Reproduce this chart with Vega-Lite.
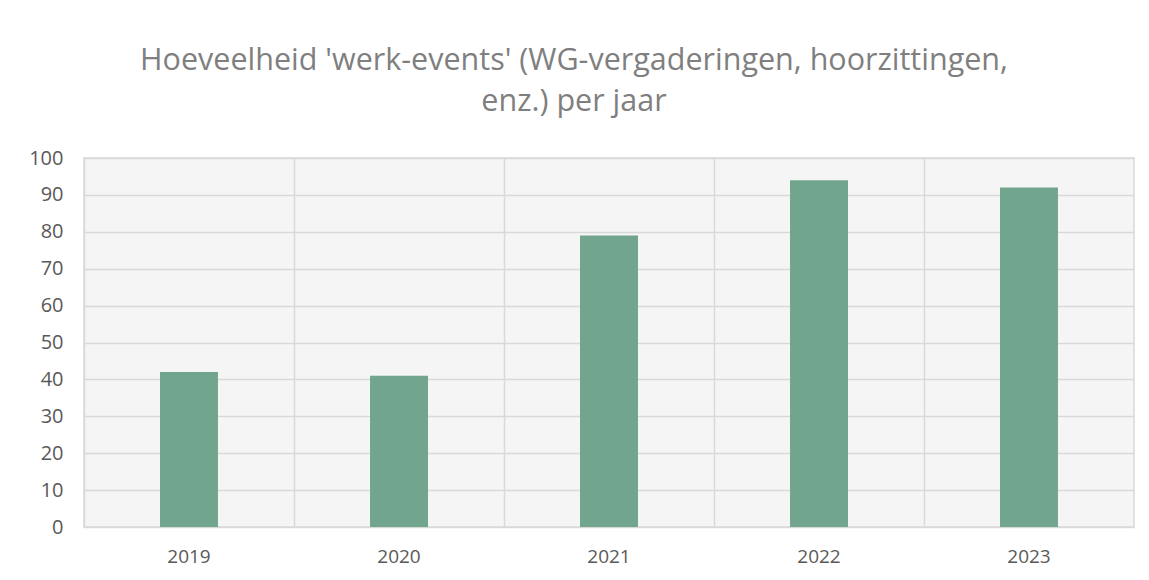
{
  "$schema": "https://vega.github.io/schema/vega-lite/v6.json",
  "width": 1050,
  "height": 369,
  "autosize": {"type": "none"},
  "padding": {"left": 84, "top": 158, "right": 15, "bottom": 53},
  "background": "white",
  "title": {
    "text": ["Hoeveelheid 'werk-events' (WG-vergaderingen, hoorzittingen,", "enz.) per jaar"],
    "font": "Open Sans",
    "fontSize": 30.5,
    "fontWeight": "normal",
    "color": "#7f7f7f",
    "anchor": "middle",
    "dx": -35,
    "offset": 31,
    "lineHeight": 41
  },
  "data": {
    "values": [
      {"year": "2019", "count": 42},
      {"year": "2020", "count": 41},
      {"year": "2021", "count": 79},
      {"year": "2022", "count": 94},
      {"year": "2023", "count": 92}
    ]
  },
  "mark": {"type": "bar", "color": "#72a58d", "width": {"band": 0.276}},
  "encoding": {
    "x": {
      "field": "year",
      "type": "ordinal",
      "title": null,
      "scale": {"paddingInner": 0, "paddingOuter": 0},
      "axis": {
        "grid": true,
        "bandPosition": 0,
        "gridColor": "#d9d9d9",
        "gridWidth": 1.5,
        "domain": false,
        "ticks": false,
        "labelAngle": 0,
        "labelFont": "Open Sans",
        "labelFontSize": 19,
        "labelColor": "#595959",
        "labelPadding": 20
      }
    },
    "y": {
      "field": "count",
      "type": "quantitative",
      "title": null,
      "scale": {"domain": [0, 100], "nice": false},
      "axis": {
        "values": [0, 10, 20, 30, 40, 50, 60, 70, 80, 90, 100],
        "grid": true,
        "gridColor": "#d9d9d9",
        "gridWidth": 1.5,
        "domain": false,
        "ticks": false,
        "labelFont": "Open Sans",
        "labelFontSize": 20,
        "labelColor": "#595959",
        "labelPadding": 21
      }
    }
  },
  "config": {
    "view": {"fill": "#f5f5f5", "stroke": "#d9d9d9", "strokeWidth": 1.5}
  }
}
